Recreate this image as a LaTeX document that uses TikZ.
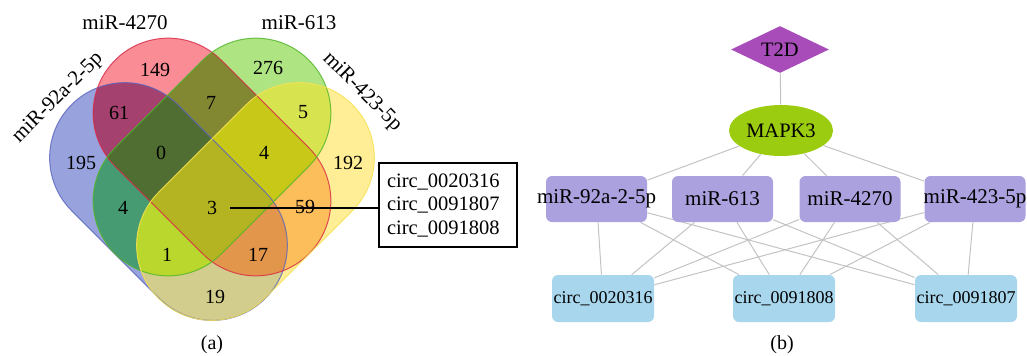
\documentclass[tikz,border=0pt]{standalone}
\usepackage{fontspec}
\setmainfont{Liberation Serif}
\usetikzlibrary{shapes.geometric,backgrounds}

% region colours of the four-set diagram
\definecolor{cB}{RGB}{152,163,222}
\definecolor{cR}{RGB}{250,140,150}
\definecolor{cG}{RGB}{175,228,130}
\definecolor{cY}{RGB}{255,238,150}
\definecolor{cBR}{RGB}{165,65,110}
\definecolor{cBG}{RGB}{70,155,115}
\definecolor{cBY}{RGB}{210,205,140}
\definecolor{cRG}{RGB}{130,135,50}
\definecolor{cRY}{RGB}{252,190,90}
\definecolor{cGY}{RGB}{215,228,80}
\definecolor{cBRG}{RGB}{80,110,50}
\definecolor{cBRY}{RGB}{225,150,75}
\definecolor{cBGY}{RGB}{185,215,45}
\definecolor{cRGY}{RGB}{200,200,25}
\definecolor{cBRGY}{RGB}{180,180,35}
% outlines
\definecolor{oB}{RGB}{90,100,190}
\definecolor{oR}{RGB}{215,40,70}
\definecolor{oG}{RGB}{80,180,40}
\definecolor{oY}{RGB}{245,225,80}
% network colours
\definecolor{nDis}{RGB}{168,76,186}
\definecolor{nGene}{RGB}{156,204,16}
\definecolor{nMir}{RGB}{171,161,222}
\definecolor{nCirc}{RGB}{168,214,236}
\definecolor{nEdge}{RGB}{195,195,195}

% a stadium: centre #1, axis angle #2, path options #3
\newcommand\stadpath[3]{\path[#3,shift={(#1)},rotate=#2]
  (-62,-75) -- (62,-75) arc[start angle=-90,end angle=90,radius=75]
  -- (-62,75) arc[start angle=90,end angle=270,radius=75] -- cycle;}
\newcommand\vsetB[1]{\stadpath{168.5,201.5}{-45}{#1}}
\newcommand\vsetR[1]{\stadpath{212,157}{-45}{#1}}
\newcommand\vsetG[1]{\stadpath{212,157}{45}{#1}}
\newcommand\vsetY[1]{\stadpath{255.5,201.5}{45}{#1}}

\tikzset{
  num/.style={inner sep=1pt, font=\fontsize{10}{12}\selectfont},
  setlabel/.style={inner sep=1pt, font=\fontsize{10.5}{12}\selectfont},
  edge/.style={draw=nEdge, line width=0.5pt},
  mirbox/.style={fill=nMir, rounded corners=3pt, minimum width=50.5pt, minimum height=23pt, inner sep=0pt},
  mirtext/.style={inner sep=0pt, font=\fontsize{10.5}{12}\selectfont},
  circbox/.style={fill=nCirc, rounded corners=3pt, minimum width=51pt, minimum height=23.5pt, inner sep=0pt, font=\fontsize{9}{11}\selectfont},
}

\begin{document}
\begin{tikzpicture}[x=0.5pt, y=-0.5pt]
\useasboundingbox (0,0) rectangle (1027,355);

% ---- Venn diagram: single sets, then intersections of growing size
\vsetB{fill=cB}
\vsetR{fill=cR}
\vsetG{fill=cG}
\vsetY{fill=cY}
\begin{scope}\vsetB{clip}\vsetR{fill=cBR}\end{scope}
\begin{scope}\vsetB{clip}\vsetG{fill=cBG}\end{scope}
\begin{scope}\vsetB{clip}\vsetY{fill=cBY}\end{scope}
\begin{scope}\vsetR{clip}\vsetG{fill=cRG}\end{scope}
\begin{scope}\vsetR{clip}\vsetY{fill=cRY}\end{scope}
\begin{scope}\vsetG{clip}\vsetY{fill=cGY}\end{scope}
\begin{scope}\vsetB{clip}\vsetR{clip}\vsetG{fill=cBRG}\end{scope}
\begin{scope}\vsetB{clip}\vsetR{clip}\vsetY{fill=cBRY}\end{scope}
\begin{scope}\vsetB{clip}\vsetG{clip}\vsetY{fill=cBGY}\end{scope}
\begin{scope}\vsetR{clip}\vsetG{clip}\vsetY{fill=cRGY}\end{scope}
\begin{scope}\vsetB{clip}\vsetR{clip}\vsetG{clip}\vsetY{fill=cBRGY}\end{scope}
\vsetB{draw=oB, line width=0.5pt, draw opacity=0.8}
\vsetR{draw=oR, line width=0.5pt, draw opacity=0.8}
\vsetG{draw=oG, line width=0.5pt, draw opacity=0.8}
\vsetY{draw=oY, line width=0.5pt, draw opacity=0.8}

% set names
\node[setlabel] (lR) at (125,23) {miR-4270};
\node[setlabel] (lG) at (299,23) {miR-613};
\node[setlabel, rotate=45] (lB) at (58,98) {miR-92a-2-5p};
\node[setlabel, rotate=-45] (lY) at (362,92) {miR-423-5p};

% region counts
\node[num] (n149) at (155,70) {149};
\node[num] (n276) at (268,68) {276};
\node[num] (n61) at (119,113) {61};
\node[num] (n7) at (211,103) {7};
\node[num] (n5) at (303,112) {5};
\node[num] (n195) at (81,163) {195};
\node[num] (n0) at (161,153) {0};
\node[num] (n4a) at (264,153) {4};
\node[num] (n192) at (348,163) {192};
\node[num] (n4b) at (123,208) {4};
\node[num] (n3) at (212,208) {3};
\node[num] (n59) at (305,207) {59};
\node[num] (n1) at (167,255) {1};
\node[num] (n17) at (258,255) {17};
\node[num] (n19) at (215,297) {19};

% callout listing the shared circRNAs
\node[draw, line width=0.6pt, minimum width=69pt, minimum height=42pt,
      text width=61pt, inner xsep=4pt, align=left,
      font=\fontsize{10.25}{11.75}\selectfont] (cbox) at (448,205)
      {circ\_0020316\\circ\_0091807\\circ\_0091808};
\draw[line width=0.6pt, shorten <=5.5pt] (n3.east) -- (n3.east -| cbox.west);

\node[font=\fontsize{10}{12}\selectfont] (capA) at (212,345) {(a)};

% ---- network
\node[diamond, aspect=2, fill=nDis, minimum width=49pt, minimum height=23.5pt, inner sep=0pt,
      font=\fontsize{10.25}{12}\selectfont] (t2d) at (780,49.5) {T2D};
\node[ellipse, fill=nGene, minimum width=52pt, minimum height=25.5pt, inner sep=0pt,
      font=\fontsize{10.25}{12}\selectfont] (mapk) at (781,130.5) {MAPK3};

\node[mirbox] (m1) at (596.5,199) {};
\node[mirbox] (m2) at (722.5,199) {};
\node[mirbox] (m3) at (850,199) {};
\node[mirbox] (m4) at (975,199) {};
\node[mirtext] (m1t) at (m1) {miR-92a-2-5p};
\node[mirtext] (m2t) at (m2) {miR-613};
\node[mirtext] (m3t) at (m3) {miR-4270};
\node[mirtext] (m4t) at (m4) {miR-423-5p};

\node[circbox] (c1) at (603,298.5) {circ\_0020316};
\node[circbox] (c2) at (784,298.5) {circ\_0091808};
\node[circbox] (c3) at (966,298.5) {circ\_0091807};

\begin{scope}[on background layer]
  \draw[edge] (t2d) -- (mapk);
  \foreach \m in {m1,m2,m3,m4} {
    \draw[edge] (mapk) -- (\m);
    \foreach \c in {c1,c2,c3} \draw[edge] (\m) -- (\c);
  }
\end{scope}

\node[font=\fontsize{10}{12}\selectfont] (capB) at (782,345) {(b)};
\end{tikzpicture}
\end{document}
